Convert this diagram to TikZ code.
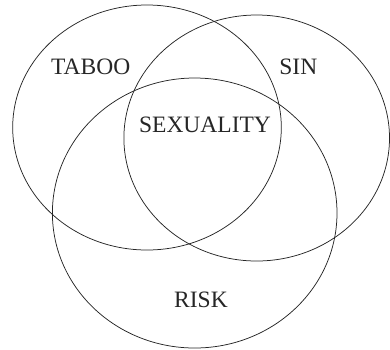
\documentclass[tikz,border=0pt]{standalone}
\usepackage{fontspec}
\setmainfont{Liberation Serif}
\begin{document}
\begin{tikzpicture}[x=1pt,y=-1pt,
  setline/.style={line width=0.75pt, draw=black!85},
  setlabel/.style={anchor=base, inner sep=0pt, font=\fontsize{23.5}{28}\selectfont, text=black!85}]
\useasboundingbox (0,0) rectangle (390,349);
% the three sets
\draw[setline] (147,127.5) ellipse [x radius=134.3, y radius=122.5];
\draw[setline] (256.7,138) ellipse [x radius=132.8, y radius=123];
\draw[setline] (194.7,213) ellipse [x radius=142.3, y radius=135];
% labels
\node[setlabel] (taboo) at (90.7,74) {TABOO};
\node[setlabel] (sin) at (298.3,74) {SIN};
\node[setlabel] (sex) at (205,132) {SEXUALITY};
\node[setlabel] (risk) at (201,307) {RISK};
\end{tikzpicture}
\end{document}
